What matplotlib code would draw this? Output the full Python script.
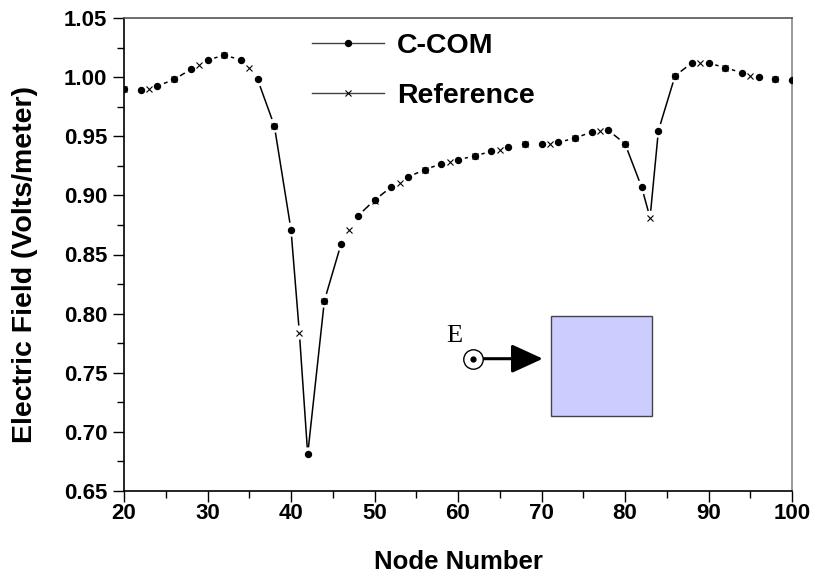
import numpy as np
import matplotlib
matplotlib.use('Agg')
import matplotlib.pyplot as plt
from matplotlib.collections import LineCollection
from matplotlib.patches import Rectangle
from matplotlib.lines import Line2D

# ---- data ----
ccom_nodes = list(range(20, 101, 2))
ccom_field = [0.990, 0.989, 0.9925, 0.998, 1.0066, 1.0145, 1.0185, 1.0147, 0.998, 0.959,
              0.871, 0.681, 0.811, 0.859, 0.8826, 0.8960, 0.907, 0.9155, 0.9217, 0.9267,
              0.9302, 0.9333, 0.9373, 0.9409, 0.9432, 0.9437, 0.9449, 0.9483, 0.9537, 0.9550,
              0.9437, 0.9068, 0.9547, 1.0012, 1.0119, 1.0119, 1.008, 1.0037, 1.0001, 0.9982, 0.9978]
ref_nodes = list(range(20, 99, 3))
ref_field = [0.990, 0.9897, 0.998, 1.0103, 1.0185, 1.008, 0.959, 0.784, 0.811, 0.871,
             0.8955, 0.9107, 0.9217, 0.9282, 0.9333, 0.9384, 0.9432, 0.9437, 0.9483, 0.9547,
             0.9437, 0.8811, 1.0012, 1.0117, 1.008, 1.0012, 0.9982]
x_ticks = [20, 30, 40, 50, 60, 70, 80, 90, 100]
y_ticks = [0.65, 0.70, 0.75, 0.80, 0.85, 0.90, 0.95, 1.00, 1.05]
series_labels = ['C-COM', 'Reference']

plt.rcParams['font.family'] = ['Liberation Sans', 'DejaVu Sans']
plt.rcParams['font.weight'] = 'bold'

fig = plt.figure(figsize=(8.17, 5.85), dpi=100)
W, H = 817, 585
ax = fig.add_axes([124 / W, 1 - 491 / H, (792 - 124) / W, (491 - 18) / H])
ax.set_xlim(20, 100)
ax.set_ylim(0.65, 1.05)


def gapped_segments(xs, ys, gap_px):
    pts = ax.transData.transform(np.column_stack([xs, ys]))
    inv = ax.transData.inverted()
    segs = []
    for i in range(len(pts) - 1):
        p0, p1 = pts[i], pts[i + 1]
        d = p1 - p0
        L = np.hypot(d[0], d[1])
        if L <= 2 * gap_px + 3:
            continue
        t = gap_px / L
        segs.append(inv.transform(np.array([p0 + d * t, p1 - d * t])))
    return segs


# one connecting curve through all nodes of both series (sorted by node), with
# gaps around each symbol
merged = {}
for n, v in zip(ccom_nodes, ccom_field):
    merged[n] = v
for n, v in zip(ref_nodes, ref_field):
    merged.setdefault(n, v)
m_nodes = sorted(merged)
m_field = [merged[n] for n in m_nodes]

gap = 7.0
lc = LineCollection(gapped_segments(m_nodes, m_field, gap), colors='black', linewidths=1.1)
ax.add_collection(lc)

ax.plot(ccom_nodes, ccom_field, linestyle='none', marker='o', markersize=4.3,
        color='black', zorder=3)
ax.plot(ref_nodes, ref_field, linestyle='none', marker='x', markersize=5,
        markeredgewidth=0.8, color='black', zorder=3)

# legend
handles = [Line2D([], [], color='#444444', lw=1.0, marker='o', markersize=4.3,
                  markerfacecolor='black', markeredgecolor='black'),
           Line2D([], [], color='#444444', lw=1.0, marker='x', markersize=5,
                  markeredgewidth=0.8, markeredgecolor='black')]
ax.legend(handles, series_labels, loc='upper left', bbox_to_anchor=(0.281, 0.968),
          frameon=False, handlelength=2.55, handletextpad=0.45,
          labelspacing=0.85, borderpad=0, borderaxespad=0,
          prop={'weight': 'bold', 'size': 20.5})

# axes styling
ax.set_xticks(x_ticks)
ax.set_yticks(y_ticks)
ax.set_xticklabels([str(v) for v in x_ticks])
ax.set_yticklabels([f'{v:.2f}' for v in y_ticks])
ax.set_xticks(np.arange(25, 100, 10), minor=True)
ax.set_yticks(np.arange(0.675, 1.05, 0.05), minor=True)
ax.tick_params(axis='both', which='major', direction='out', length=8, width=1,
               labelsize=16, pad=4)
ax.tick_params(axis='x', which='major', pad=0.5)
ax.tick_params(axis='both', which='minor', direction='out', length=5, width=1)
ax.tick_params(top=False, right=False, which='both')
for lab in ax.get_xticklabels() + ax.get_yticklabels():
    lab.set_fontweight('bold')
ax.spines['left'].set_color('black')
ax.spines['bottom'].set_color('black')
ax.spines['top'].set_color('#555555')
ax.spines['right'].set_color('#888888')
for s in ax.spines.values():
    s.set_linewidth(1.2)

ax.set_xlabel('Node Number', fontsize=18.5, fontweight='bold', labelpad=19)
ax.set_ylabel('Electric Field (Volts/meter)', fontsize=20.5, fontweight='bold')
ax.yaxis.set_label_coords(-0.129, 0.478)

# inset schematic
ax.add_patch(Rectangle((0.639, 0.159), 0.151, 0.212, transform=ax.transAxes,
                       facecolor='#ccccff', edgecolor='#444444', linewidth=1.0, zorder=2))
ax.plot([0.523], [0.2797], transform=ax.transAxes, marker='o', markersize=14,
        markerfacecolor='white', markeredgecolor='black', markeredgewidth=1.0,
        linestyle='none', zorder=4)
ax.plot([0.523], [0.2797], transform=ax.transAxes, marker='o', markersize=3.5,
        color='black', linestyle='none', zorder=5)
ax.annotate('', xy=(0.627, 0.2797), xytext=(0.537, 0.2797),
            xycoords='axes fraction', textcoords='axes fraction',
            arrowprops=dict(arrowstyle='-|>,head_length=1.2,head_width=0.55',
                            mutation_scale=16, color='black', lw=2.2,
                            shrinkA=0, shrinkB=0))
ax.text(0.494, 0.328, 'E', transform=ax.transAxes, fontsize=19,
        family='Liberation Serif', fontweight='normal', ha='center', va='center')

fig.savefig('out.png', dpi=100)
